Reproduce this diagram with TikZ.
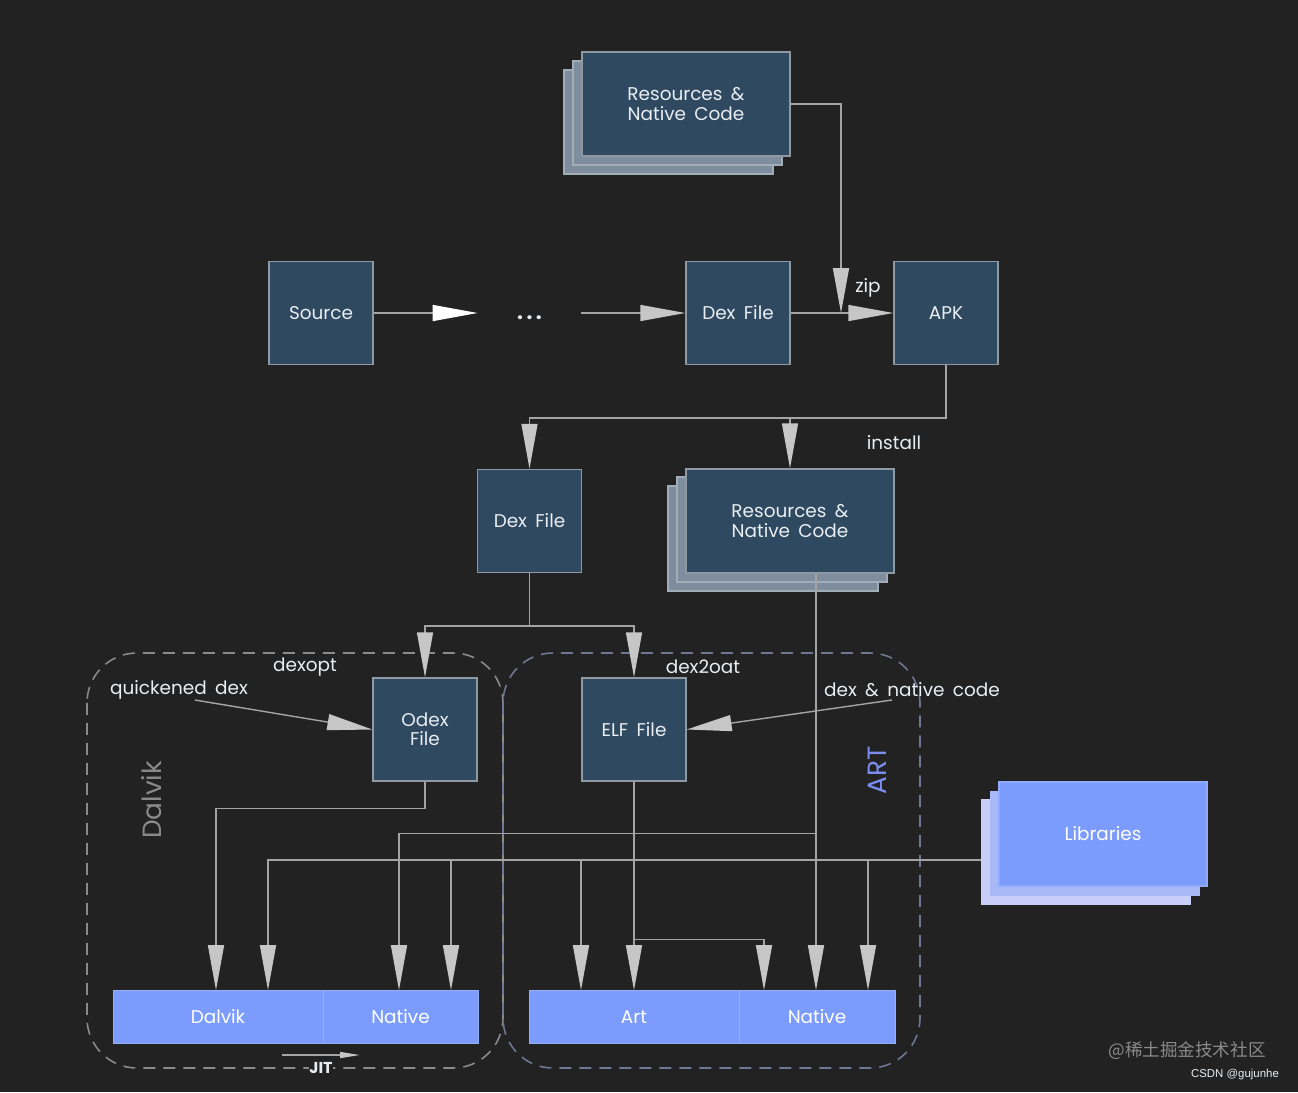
\documentclass[tikz,border=0pt]{standalone}
\usepackage{fontspec}
\setmainfont{Poppins}[WordSpace=1.7]
\newfontfamily\cjkfont{Noto Sans CJK SC}
\newfontfamily\notefont{Liberation Sans}
\usetikzlibrary{arrows.meta}

\definecolor{bg}{HTML}{222222}
\definecolor{boxblue}{HTML}{2F4960}
\definecolor{boxedge}{HTML}{8E99A4}
\definecolor{layerfill}{HTML}{7F8E9F}
\definecolor{layeredge}{HTML}{A3ADB8}
\definecolor{wiregray}{HTML}{A4A4A4}
\definecolor{tipgray}{HTML}{C6C6C6}
\definecolor{libblue}{HTML}{7C9CFD}
\definecolor{liblayer}{HTML}{A9B9F8}
\definecolor{liblayerb}{HTML}{C7CFF8}
\definecolor{artblue}{HTML}{7C8EF2}
\definecolor{regiongray}{HTML}{8A8A8A}
\definecolor{regionblue}{HTML}{6F7795}
\definecolor{txt}{HTML}{E9EEF2}

\tikzset{
  stepbox/.style={draw=boxedge, fill=boxblue, line width=0.8pt, inner sep=0pt,
    minimum width=2.08cm, minimum height=2.06cm, text=txt, align=center,
    font=\fontsize{10.5}{11}\selectfont},
  widebox/.style={stepbox, minimum width=4.16cm, minimum height=2.08cm},
  stacklayer/.style={draw=layeredge, fill=layerfill, line width=0.6pt},
  libbox/.style={widebox, draw=libblue!85!white, fill=libblue, text=white},
  barpart/.style={fill=libblue, draw=libblue!80!white, line width=0.4pt, inner sep=0pt,
    minimum height=1.06cm, text=white, font=\fontsize{10.5}{11}\selectfont},
  plainline/.style={draw=wiregray, line width=0.8pt},
  flow/.style={plainline, -{Triangle[length=0.9cm, width=0.32cm, color=tipgray]}},
  srcflow/.style={plainline, -{Triangle[length=0.9cm, width=0.32cm, color=white]}},
  lbl/.style={text=txt, inner sep=1pt, font=\fontsize{10.5}{11}\selectfont},
  region/.style={dash pattern=on 0.24cm off 0.16cm, line width=0.9pt, rounded corners=1cm},
}

\begin{document}
\begin{tikzpicture}[x=0.02cm, y=-0.02cm]
  \fill[bg] (0,0) rectangle (1298,1092);
  \useasboundingbox (0,0) rectangle (1298,1092);

  % dalvik and art regions
  \draw[region, regiongray] (87,653) rectangle (503,1068);
  \draw[region, regionblue] (503,653) rectangle (920,1068);

  % stacked boxes
  \filldraw[stacklayer] (564,70) rectangle (773,174);
  \filldraw[stacklayer] (573,61) rectangle (782,165);
  \node[widebox] (res1) at (686,104) {Resources \&\\Native Code};

  \filldraw[stacklayer] (668,486) rectangle (878,591);
  \filldraw[stacklayer] (677,477) rectangle (887,582);
  \node[widebox] (res2) at (790,521) {Resources \&\\Native Code};

  \filldraw[draw=liblayerb, fill=liblayerb] (981,799) rectangle (1190,904);
  \filldraw[draw=liblayer, fill=liblayer] (990,791) rectangle (1199,895);
  \node[libbox] (libs) at (1103,834) {Libraries};

  % build steps
  \node[stepbox] (source) at (321,313) {Source};
  \node[lbl, minimum width=2.06cm, font=\fontsize{12}{12}\bfseries] (dots) at (529.5,318) {.\,.\,.};
  \node[stepbox] (dex1) at (738,313) {Dex File};
  \node[stepbox] (apk) at (946,313) {APK};
  \node[stepbox] (dex2) at (529.5,521) {Dex File};
  \node[stepbox] (odex) at (425,729.5) {Odex\\File};
  \node[stepbox] (elf) at (634,729.5) {ELF File};

  % runtimes
  \node[barpart, minimum width=4.2cm] (dalvik) at (218,1017) {Dalvik};
  \node[barpart, minimum width=3.1cm] (dnative) at (400.5,1017) {Native};
  \node[barpart, minimum width=4.2cm] (art) at (634,1017) {Art};
  \node[barpart, minimum width=3.12cm] (anative) at (817,1017) {Native};

  % labels
  \node[lbl] (zip) at (868,288) {zip};
  \node[lbl] (install) at (894,443) {install};
  \node[lbl] (dexopt) at (305,667) {dexopt};
  \node[lbl] (dextooat) at (703,667) {dex2oat};
  \node[lbl] (qdex) at (179,690) {quickened dex};
  \node[lbl] (dnc) at (912,690) {dex \& native code};
  \node[rotate=90, text=regiongray, font=\fontsize{15}{18}\selectfont] (dalviklbl) at (152,800) {Dalvik};
  \node[rotate=90, text=artblue, font=\fontsize{15}{18}\selectfont] (artlbl) at (877,770) {ART};
  \node[lbl, fill=bg, inner sep=0.5pt, font=\fontsize{9}{10}\selectfont\bfseries] (jit) at (321,1068) {JIT};

  % inlets on the runtime bars
  \foreach \n/\x in {d1/216, d2/268, d3/399, d4/451, a1/581, a2/634, a3/764, a4/816, a5/868}
    \coordinate (\n) at (\x,0 |- dalvik.north);
  \coordinate (zipin) at (841,0 |- dex1.east);
  \coordinate (qdfrom) at (195,700);
  \coordinate (dncfrom) at (892,700);
  \coordinate (r2out) at (816,0 |- res2.south);
  \coordinate (libout) at (981,860);
  \coordinate (jitfrom) at (282,1055);
  \coordinate (jitto) at (360,1055);

  % build
  \draw[srcflow] (source.east) -- (source.east -| dots.west);
  \draw[flow] (dots.east |- dex1.west) -- (dex1.west);
  \draw[flow] (dex1.east) -- (apk.west);
  \draw[flow] (res1.east) -| (zipin);

  % install
  \draw[flow] (apk.south) -- ++(0,53) -| (dex2.north);
  \draw[flow] (apk.south) -- ++(0,53) -| (res2.north);
  \draw[flow] (dex2.south) -- ++(0,53) -| (odex.north);
  \draw[flow] (dex2.south) -- ++(0,53) -| (elf.north);
  \draw[flow] (qdfrom) -- (odex.west);
  \draw[flow] (dncfrom) -- (elf.east);

  % runtime inputs
  \draw[flow] (odex.south) -- ++(0,27) -| (d1);
  \draw[flow] (r2out) -- ++(0,260) -| (d3);
  \draw[flow] (r2out) -- (a4);
  \draw[flow] (libout) -| (d2);
  \draw[flow] (d4 |- libout) -- (d4);
  \draw[flow] (a1 |- libout) -- (a1);
  \draw[flow] (a5 |- libout) -- (a5);
  \draw[flow] (elf.south) -- (a2);
  \draw[flow] (elf.south) -- ++(0,158) -| (a3);
  \draw[plainline, -{Triangle[length=0.4cm, width=0.12cm, color=tipgray]}] (jitfrom) -- (jitto);

  % marks
  \node[text=regiongray, font=\cjkfont\fontsize{10}{12}\selectfont] (mark) at (1187,1051) {@稀土掘金技术社区};
  \node[text=txt, font=\notefont\fontsize{6.5}{8}\selectfont] (csdn) at (1235,1075) {CSDN @gujunhe};
\end{tikzpicture}
\end{document}
